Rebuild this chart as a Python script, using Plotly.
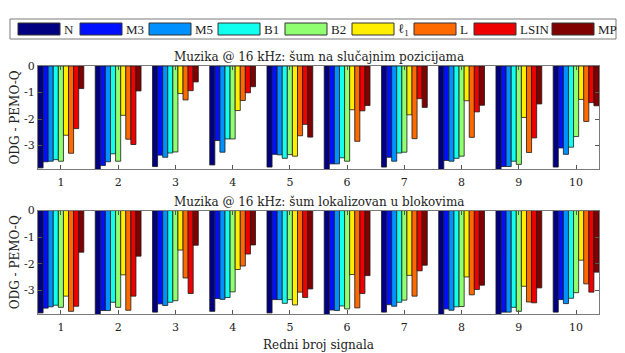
import plotly.graph_objects as go
from plotly.subplots import make_subplots

# Redni broj signala (signal index)
signals = list(range(1, 11))
methods = ["N", "M3", "M5", "B1", "B2", "ℓ<sub>1</sub>", "L", "LSIN", "MP"]
method_colors = ["#000080", "#0010FF", "#0090FF", "#10FFEF", "#90FF70",
                 "#FFEE00", "#FF6A00", "#EE0000", "#800000"]

# ODG - PEMO-Q, noise at random positions (top panel)
rand_N = [-3.84, -3.90, -3.79, -3.73, -3.81, -3.90, -3.81, -3.90, -3.90, -3.81]
rand_M3 = [-3.61, -3.75, -3.36, -2.81, -3.33, -3.69, -3.44, -3.56, -3.79, -3.09]
rand_M5 = [-3.59, -3.61, -3.44, -3.25, -3.35, -3.69, -3.59, -3.59, -3.79, -3.33]
rand_B1 = [-3.53, -3.31, -3.28, -2.75, -3.48, -3.46, -3.28, -3.48, -3.59, -3.06]
rand_B2 = [-3.59, -3.59, -3.24, -2.75, -3.34, -3.59, -3.25, -3.40, -3.71, -2.66]
rand_L1 = [-2.61, -1.86, -1.04, -1.68, -3.40, -1.65, -1.84, -1.31, -1.94, -1.26]
rand_L = [-3.29, -2.76, -1.28, -1.30, -2.63, -2.84, -2.74, -2.69, -3.26, -2.09]
rand_LSIN = [-2.36, -2.96, -0.93, -1.01, -2.20, -1.69, -1.23, -1.73, -2.71, -1.38]
rand_MP = [-0.85, -0.94, -0.60, -0.78, -2.68, -1.49, -1.56, -1.48, -1.43, -1.50]

# ODG - PEMO-Q, noise localized in blocks (bottom panel)
block_N = [-3.84, -3.90, -3.81, -3.78, -3.84, -3.90, -3.81, -3.90, -3.90, -3.81]
block_M3 = [-3.66, -3.75, -3.50, -3.30, -3.34, -3.73, -3.53, -3.69, -3.81, -3.34]
block_M5 = [-3.61, -3.75, -3.56, -3.33, -3.34, -3.75, -3.59, -3.74, -3.81, -3.49]
block_B1 = [-3.55, -3.44, -3.44, -3.26, -3.48, -3.58, -3.44, -3.61, -3.63, -3.29]
block_B2 = [-3.63, -3.63, -3.38, -3.05, -3.34, -3.69, -3.36, -3.60, -3.78, -3.08]
block_L1 = [-3.21, -2.41, -1.48, -2.21, -3.54, -2.40, -2.43, -2.49, -2.84, -1.86]
block_L = [-3.78, -3.74, -2.53, -2.08, -3.06, -3.65, -3.21, -3.16, -3.43, -2.75]
block_LSIN = [-3.59, -3.21, -3.11, -1.63, -3.26, -3.11, -2.26, -2.96, -3.46, -3.06]
block_MP = [-1.56, -1.71, -1.30, -1.29, -2.94, -2.44, -2.05, -2.80, -2.90, -2.31]

ytick_vals = [0, -1, -2, -3]
ytick_text = ["0", "-1", "-2", "-3"]

titles = ["Muzika @ 16 kHz: šum na slučajnim pozicijama",
          "Muzika @ 16 kHz: šum lokalizovan u blokovima"]

rand_series = [rand_N, rand_M3, rand_M5, rand_B1, rand_B2, rand_L1, rand_L, rand_LSIN, rand_MP]
block_series = [block_N, block_M3, block_M5, block_B1, block_B2, block_L1, block_L, block_LSIN, block_MP]

FONT = "DejaVu Serif"
LEG_FONT = "Liberation Serif"
W, H = 625, 353
OFF = 8  # the page body adds an 8px margin around the figure
# plot area in page pixels: x 38..599, y 66..314
ML, MR, MT, MB = 38 - OFF, W - (599 - OFF), 66 - OFF, H - (314 - OFF)

fig = make_subplots(rows=2, cols=1, vertical_spacing=0.17)

for row, panel in enumerate([rand_series, block_series], start=1):
    for name, color, vals in zip(methods, method_colors, panel):
        fig.add_trace(go.Bar(x=signals, y=vals, name=name, marker_color=color,
                             marker_line=dict(color="#1a1a1a", width=0.8),
                             showlegend=False), row=row, col=1)

axis_style = dict(showline=True, linecolor="#7a7a7a", linewidth=1, mirror="ticks",
                  ticks="inside", ticklen=4, tickcolor="#555", showgrid=False,
                  zeroline=False, automargin=False,
                  tickfont=dict(family=FONT, size=11, color="#222"))

for row in (1, 2):
    fig.update_xaxes(range=[0.6, 10.4], tickvals=signals, ticklabelstandoff=3,
                     row=row, col=1, **axis_style)
    fig.update_yaxes(range=[-3.88, 0], tickvals=ytick_vals, ticktext=ytick_text,
                     title=dict(text="ODG - PEMO-Q", standoff=4,
                                font=dict(family=FONT, size=12, color="#222")),
                     row=row, col=1, **axis_style)

fig.update_xaxes(title=dict(text="Redni broj signala", standoff=7,
                            font=dict(family=FONT, size=12, color="#222")), row=2, col=1)
fig.update_yaxes(domain=[0.585, 1.0], row=1, col=1)
fig.update_yaxes(domain=[0.0, 0.417], row=2, col=1)

plot_w = W - ML - MR
plot_h = H - MT - MB


def px_x(x):
    return (x - OFF - ML) / plot_w


def px_y(y):
    return (H - MB - (y - OFF)) / plot_h


annotations = []
for title, top in zip(titles, [1.0, 0.417]):
    annotations.append(dict(text=title, x=0.5, y=top, xref="paper", yref="paper",
                            xanchor="center", yanchor="bottom", yshift=0, showarrow=False,
                            font=dict(family=FONT, size=12, color="#222")))

# legend drawn as a boxed row of wide swatches
shapes = [dict(type="rect", xref="paper", yref="paper", x0=px_x(10), x1=px_x(616),
               y0=px_y(39), y1=px_y(19), line=dict(color="#7a7a7a", width=1),
               fillcolor="white", layer="above")]
swatch_left = [18, 80, 149, 218, 285, 352, 414, 474, 552]
for left, name, color in zip(swatch_left, methods, method_colors):
    shapes.append(dict(type="rect", xref="paper", yref="paper", x0=px_x(left), x1=px_x(left + 42),
                       y0=px_y(35), y1=px_y(23), line=dict(color="#333", width=1),
                       fillcolor=color, layer="above"))
    annotations.append(dict(text=name, x=px_x(left + 44), y=px_y(29), xref="paper", yref="paper",
                            xanchor="left", yanchor="middle", showarrow=False,
                            font=dict(family=LEG_FONT, size=13, color="#222")))

fig.update_layout(
    width=W, height=H,
    barmode="group", bargap=0.2, bargroupgap=0,
    margin=dict(l=ML, r=MR, t=MT, b=MB, autoexpand=False),
    paper_bgcolor="white", plot_bgcolor="white",
    font=dict(family=FONT, color="#222"),
    annotations=annotations, shapes=shapes,
)

fig.write_html("out.html")
